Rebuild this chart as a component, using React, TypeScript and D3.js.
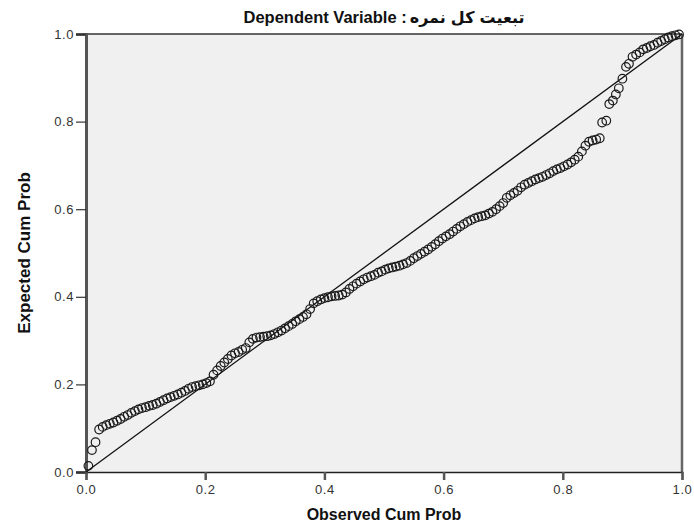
import React, { useEffect, useRef } from 'react';
import * as d3 from 'd3';

// P-P plot values
const observed = [
  0.004, 0.010, 0.016, 0.022, 0.028, 0.034, 0.040, 0.046, 0.052, 0.058,
  0.064, 0.070, 0.076, 0.082, 0.088, 0.094, 0.100, 0.106, 0.112, 0.118,
  0.124, 0.130, 0.136, 0.142, 0.148, 0.154, 0.160, 0.166, 0.172, 0.178,
  0.184, 0.190, 0.196, 0.202, 0.208, 0.214, 0.220, 0.226, 0.232, 0.238,
  0.244, 0.250, 0.256, 0.262, 0.268, 0.274, 0.280, 0.286, 0.292, 0.298,
  0.304, 0.310, 0.316, 0.322, 0.328, 0.334, 0.340, 0.346, 0.352, 0.358,
  0.364, 0.370, 0.376, 0.382, 0.388, 0.394, 0.400, 0.406, 0.412, 0.418,
  0.424, 0.430, 0.436, 0.442, 0.448, 0.454, 0.460, 0.466, 0.472, 0.478,
  0.484, 0.490, 0.496, 0.502, 0.508, 0.514, 0.520, 0.526, 0.532, 0.538,
  0.544, 0.550, 0.556, 0.562, 0.568, 0.574, 0.580, 0.586, 0.592, 0.598,
  0.604, 0.610, 0.616, 0.622, 0.628, 0.634, 0.640, 0.646, 0.652, 0.658,
  0.664, 0.670, 0.676, 0.682, 0.688, 0.694, 0.700, 0.706, 0.712, 0.718,
  0.724, 0.730, 0.736, 0.742, 0.748, 0.754, 0.760, 0.766, 0.772, 0.778,
  0.784, 0.790, 0.796, 0.802, 0.808, 0.814, 0.820, 0.826, 0.832, 0.838,
  0.844, 0.850, 0.856, 0.862, 0.866, 0.873, 0.878, 0.884, 0.889, 0.894,
  0.900, 0.906, 0.911, 0.917, 0.923, 0.929, 0.935, 0.941, 0.947, 0.953,
  0.959, 0.965, 0.971, 0.977, 0.983, 0.989, 0.995
];

const expected = [
  0.014, 0.050, 0.068, 0.097, 0.103, 0.107, 0.110, 0.113, 0.117, 0.121,
  0.126, 0.130, 0.135, 0.139, 0.143, 0.146, 0.148, 0.151, 0.153, 0.156,
  0.160, 0.164, 0.168, 0.171, 0.174, 0.177, 0.181, 0.185, 0.190, 0.194,
  0.196, 0.198, 0.200, 0.203, 0.207, 0.222, 0.232, 0.242, 0.250, 0.258,
  0.266, 0.271, 0.274, 0.279, 0.283, 0.296, 0.304, 0.307, 0.308, 0.309,
  0.310, 0.312, 0.315, 0.319, 0.323, 0.328, 0.333, 0.338, 0.344, 0.349,
  0.354, 0.360, 0.372, 0.385, 0.390, 0.394, 0.397, 0.399, 0.401, 0.402,
  0.403, 0.405, 0.410, 0.418, 0.424, 0.430, 0.435, 0.440, 0.444, 0.447,
  0.450, 0.455, 0.458, 0.462, 0.465, 0.467, 0.469, 0.471, 0.474, 0.477,
  0.482, 0.488, 0.493, 0.498, 0.503, 0.508, 0.514, 0.520, 0.527, 0.533,
  0.538, 0.543, 0.549, 0.555, 0.561, 0.566, 0.571, 0.575, 0.579, 0.582,
  0.584, 0.586, 0.590, 0.594, 0.600, 0.607, 0.614, 0.626, 0.632, 0.637,
  0.642, 0.650, 0.656, 0.660, 0.664, 0.668, 0.671, 0.674, 0.678, 0.682,
  0.687, 0.691, 0.694, 0.698, 0.702, 0.707, 0.713, 0.720, 0.732, 0.745,
  0.754, 0.757, 0.759, 0.762, 0.798, 0.802, 0.840, 0.848, 0.862, 0.876,
  0.898, 0.925, 0.932, 0.948, 0.953, 0.958, 0.965, 0.968, 0.972, 0.975,
  0.980, 0.984, 0.988, 0.992, 0.995, 0.997, 0.999
];

const ticks = [0, 0.2, 0.4, 0.6, 0.8, 1.0];
const diagonal = [0, 1];

const titleLatin = 'Dependent Variable :';
// Persian words in the order they appear left to right in the picture
const titleWords = ['نمره', 'کل', 'تبعیت'];
const xTitle = 'Observed Cum Prob';
const yTitle = 'Expected Cum Prob';

export default function App() {
  const ref = useRef<SVGSVGElement>(null);

  useEffect(() => {
    const w = 694;
    const h = 525;
    const m = { top: 34, right: 12, bottom: 53, left: 86 };
    const font = 'Arial, "Liberation Sans", sans-serif';

    const svg = d3.select(ref.current);
    svg.selectAll('*').remove();

    const x = d3.scaleLinear().domain([0, 1]).range([m.left, w - m.right]);
    const y = d3.scaleLinear().domain([0, 1]).range([h - m.bottom, m.top]);

    svg.append('rect')
      .attr('width', w)
      .attr('height', h)
      .attr('fill', '#fff');

    svg.append('rect')
      .attr('x', x(0))
      .attr('y', y(1))
      .attr('width', x(1) - x(0))
      .attr('height', y(0) - y(1))
      .attr('fill', '#f0f0f0');

    // frame
    svg.append('line')
      .attr('x1', x(0)).attr('x2', x(1))
      .attr('y1', y(1)).attr('y2', y(1))
      .attr('stroke', '#333').attr('stroke-width', 1.5);
    svg.append('line')
      .attr('x1', x(1)).attr('x2', x(1))
      .attr('y1', y(1)).attr('y2', y(0))
      .attr('stroke', '#666').attr('stroke-width', 2.5);

    const yAxis = d3.axisLeft(y)
      .tickValues(ticks)
      .tickFormat(d3.format('.1f'))
      .tickSize(10)
      .tickPadding(2);

    const gy = svg.append('g')
      .attr('transform', `translate(${x(0)},0)`)
      .call(yAxis);
    gy.select('.domain').attr('stroke', '#555').attr('stroke-width', 3);
    gy.selectAll('.tick line').attr('stroke', '#333').attr('stroke-width', 1.2);
    gy.selectAll('.tick text')
      .attr('font-family', font).attr('font-size', 13).attr('fill', '#333')
      .attr('letter-spacing', 0.6);

    const xAxis = d3.axisBottom(x)
      .tickValues(ticks)
      .tickFormat(d3.format('.1f'))
      .tickSize(8)
      .tickPadding(5);

    const gx = svg.append('g')
      .attr('transform', `translate(0,${y(0)})`)
      .call(xAxis);
    gx.select('.domain').attr('stroke', '#222').attr('stroke-width', 1.5);
    gx.selectAll('.tick line').attr('stroke', '#555').attr('stroke-width', 2.5);
    gx.selectAll('.tick text')
      .attr('font-family', font).attr('font-size', 13).attr('fill', '#333')
      .attr('letter-spacing', 0.6);

    // reference line
    svg.append('line')
      .attr('x1', x(diagonal[0])).attr('y1', y(diagonal[0]))
      .attr('x2', x(diagonal[1])).attr('y2', y(diagonal[1]))
      .attr('stroke', '#111').attr('stroke-width', 1.3);

    svg.append('g')
      .selectAll('circle')
      .data(observed)
      .enter()
      .append('circle')
      .attr('cx', d => x(d))
      .attr('cy', (d, i) => y(expected[i]))
      .attr('r', 4.3)
      .attr('fill', 'none')
      .attr('stroke', '#1a1a1a')
      .attr('stroke-width', 1.2);

    // title: latin part, then each persian word laid out left to right
    const tg = svg.append('g');
    const latin = tg.append('text')
      .attr('y', 23)
      .attr('font-family', font)
      .attr('font-weight', 'bold')
      .attr('font-size', 16.5)
      .attr('fill', '#111')
      .text(titleLatin);
    const words = tg.selectAll('text.fa')
      .data(titleWords)
      .enter()
      .append('text')
      .attr('class', 'fa')
      .attr('y', 23)
      .attr('font-family', 'Tahoma, "DejaVu Sans", sans-serif')
      .attr('font-weight', 'bold')
      .attr('font-size', 16)
      .attr('fill', '#111')
      .text(d => d);

    const latinW = (latin.node() as SVGTextElement).getComputedTextLength();
    const wordW = words.nodes().map(n => (n as SVGTextElement).getComputedTextLength());
    const gap = 5;
    const total = latinW + 3 + d3.sum(wordW) + gap * (wordW.length - 1);
    let cursor = (x(0) + x(1)) / 2 - total / 2;
    latin.attr('x', cursor);
    cursor += latinW + 3;
    words.each(function (d, i) {
      d3.select(this).attr('x', cursor);
      cursor += wordW[i] + gap;
    });

    svg.append('text')
      .attr('x', (x(0) + x(1)) / 2)
      .attr('y', 520)
      .attr('text-anchor', 'middle')
      .attr('font-family', font)
      .attr('font-weight', 'bold')
      .attr('font-size', 16)
      .attr('fill', '#111')
      .text(xTitle);

    svg.append('text')
      .attr('transform', `translate(30,${(y(0) + y(1)) / 2}) rotate(-90)`)
      .attr('text-anchor', 'middle')
      .attr('font-family', font)
      .attr('font-weight', 'bold')
      .attr('font-size', 17)
      .attr('fill', '#111')
      .text(yTitle);
  }, []);

  return (
    <svg
      ref={ref}
      width={694}
      height={525}
      style={{ position: 'absolute', left: 0, top: 0, display: 'block' }}
    />
  );
}
